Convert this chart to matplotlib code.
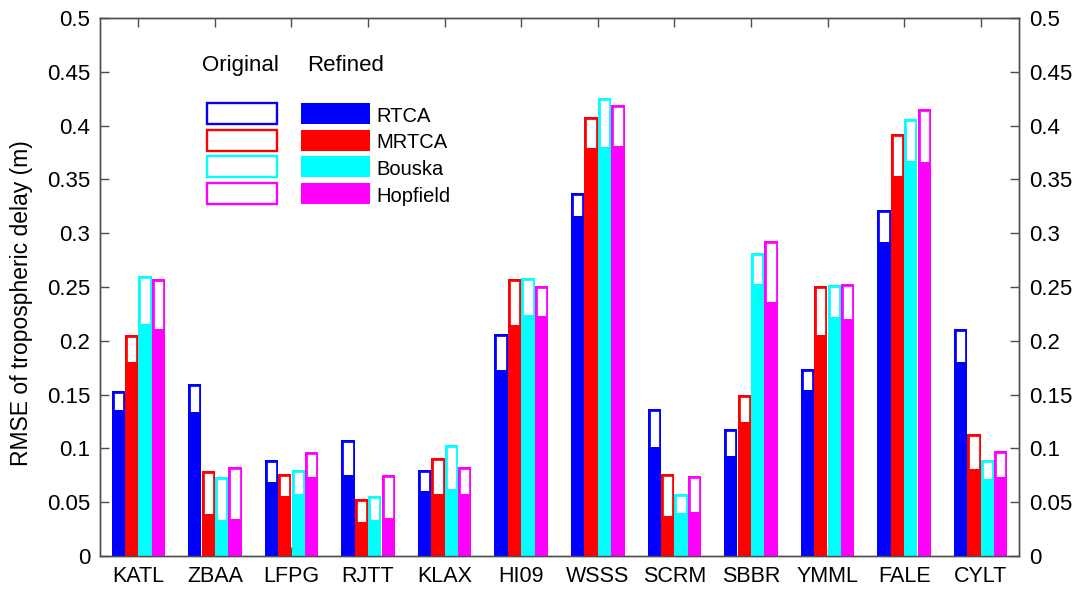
import matplotlib
matplotlib.use("Agg")
import matplotlib.pyplot as plt
from matplotlib.patches import Rectangle
import numpy as np

plt.rcParams['font.family'] = ['Liberation Sans', 'DejaVu Sans']

stations = ["KATL", "ZBAA", "LFPG", "RJTT", "KLAX", "HI09", "WSSS", "SCRM",
            "SBBR", "YMML", "FALE", "CYLT"]
models = ["RTCA", "MRTCA", "Bouska", "Hopfield"]
colors = ["#0000ff", "#ff0000", "#00ffff", "#ff00ff"]

# Original model RMSE (m)
orig_rtca     = [0.153, 0.160, 0.089, 0.108, 0.080, 0.206, 0.337, 0.137, 0.118, 0.174, 0.322, 0.211]
orig_mrtca    = [0.205, 0.079, 0.076, 0.053, 0.091, 0.257, 0.408, 0.076, 0.150, 0.251, 0.392, 0.113]
orig_bouska   = [0.260, 0.073, 0.080, 0.056, 0.103, 0.258, 0.426, 0.058, 0.282, 0.252, 0.406, 0.089]
orig_hopfield = [0.257, 0.083, 0.097, 0.075, 0.083, 0.251, 0.419, 0.074, 0.293, 0.253, 0.415, 0.098]

# Refined model RMSE (m)
ref_rtca     = [0.136, 0.134, 0.069, 0.075, 0.060, 0.173, 0.316, 0.101, 0.093, 0.154, 0.292, 0.180]
ref_mrtca    = [0.180, 0.039, 0.056, 0.032, 0.058, 0.215, 0.379, 0.037, 0.125, 0.205, 0.353, 0.081]
ref_bouska   = [0.216, 0.033, 0.058, 0.033, 0.062, 0.224, 0.380, 0.040, 0.253, 0.222, 0.367, 0.072]
ref_hopfield = [0.211, 0.034, 0.073, 0.035, 0.058, 0.223, 0.381, 0.041, 0.236, 0.220, 0.366, 0.073]

originals = [orig_rtca, orig_mrtca, orig_bouska, orig_hopfield]
refineds = [ref_rtca, ref_mrtca, ref_bouska, ref_hopfield]

yticks = [0, 0.05, 0.1, 0.15, 0.2, 0.25, 0.3, 0.35, 0.4, 0.45, 0.5]
ytick_labels = ["0", "0.05", "0.1", "0.15", "0.2", "0.25", "0.3", "0.35", "0.4", "0.45", "0.5"]

W, H = 1077, 592
fig = plt.figure(figsize=(W / 100, H / 100), dpi=100)
ax_l, ax_r, ax_t, ax_b = 100, 1019, 18, 556
ax = fig.add_axes([ax_l / W, 1 - ax_b / H, (ax_r - ax_l) / W, (ax_b - ax_t) / H])

x = np.arange(1, len(stations) + 1)
pitch = 0.175
bw = 0.1725
offsets = (np.arange(4) - 1.5) * pitch
for i in range(4):
    outl = ax.bar(x + offsets[i], originals[i], width=bw, facecolor="white",
                  edgecolor=colors[i], linewidth=3.4, zorder=2)
    for r in outl:
        r.set_clip_path(r)
    ax.bar(x + offsets[i], refineds[i], width=bw, color=colors[i],
           linewidth=0, zorder=3)

spine_col = "#4d4d4d"
ax.set_xlim(0.5, 12.5)
ax.set_ylim(0, 0.5)
ax.set_xticks(x)
ax.set_xticklabels(stations, fontsize=15.5)
ax.set_yticks(yticks)
ax.set_yticklabels(ytick_labels, fontsize=16)
ax.tick_params(axis="both", direction="in", length=6.5, color=spine_col, width=1)
ax.tick_params(axis="x", top=True, pad=7)
ax.tick_params(axis="y", pad=7)
ax.set_ylabel("RMSE of tropospheric delay (m)", fontsize=16.5)
ax.yaxis.set_label_coords(-0.073, 0.47)
for s in ax.spines.values():
    s.set_color(spine_col)
    s.set_linewidth(1)

ax2 = ax.twinx()
ax2.set_ylim(0, 0.5)
ax2.set_yticks(yticks)
ax2.set_yticklabels(ytick_labels, fontsize=16)
ax2.tick_params(axis="y", direction="in", length=6.5, color=spine_col, width=1, pad=7)
for s in ax2.spines.values():
    s.set_color(spine_col)
    s.set_linewidth(1)

# custom legend (figure pixel coordinates converted to axes fraction)
def axx(px):
    return (px - ax_l) / (ax_r - ax_l)

def axy(py):
    return (ax_b - py) / (ax_b - ax_t)

ax.text(axx(240.5), axy(71), "Original", transform=ax.transAxes, fontsize=16,
        ha="center", va="baseline")
ax.text(axx(345.5), axy(71), "Refined", transform=ax.transAxes, fontsize=16,
        ha="center", va="baseline")
rows_y = [103, 129.5, 156, 183]
bh = 21
for i in range(4):
    y0 = rows_y[i]
    ax.add_patch(Rectangle((axx(207), axy(y0 + bh)), axx(277) - axx(207),
                           axy(y0) - axy(y0 + bh), transform=ax.transAxes,
                           facecolor="white", edgecolor=colors[i], linewidth=1.7,
                           clip_on=False, zorder=5))
    ax.add_patch(Rectangle((axx(301), axy(y0 + bh)), axx(370) - axx(301),
                           axy(y0) - axy(y0 + bh), transform=ax.transAxes,
                           facecolor=colors[i], edgecolor="none",
                           clip_on=False, zorder=5))
    ax.text(axx(376), axy(y0 + bh - 2), models[i], transform=ax.transAxes,
            fontsize=14.5, ha="left", va="baseline", zorder=6)

fig.savefig("out.png", dpi=100)
